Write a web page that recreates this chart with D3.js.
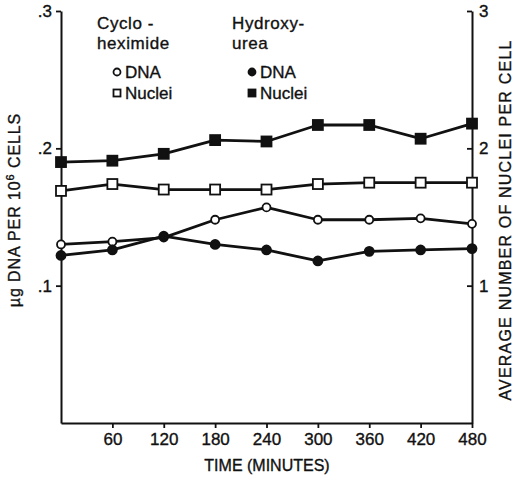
<!DOCTYPE html>
<html>
<head>
<meta charset="utf-8">
<script src="https://cdn.jsdelivr.net/npm/d3@7"></script>
<style>
  html, body { margin: 0; padding: 0; background: #fff; }
  svg { display: block; }
  text { font-family: "Liberation Sans", Arial, sans-serif; fill: #111; stroke: #111; stroke-width: 0.35px; }
</style>
</head>
<body>
<svg id="chart" width="514" height="477"></svg>
<script>
// Sampling times (minutes)
const times = [0, 60, 120, 180, 240, 300, 360, 420, 480];

// Cycloheximide-treated cells
const cycloDNA    = [0.130, 0.132, 0.135, 0.148, 0.157, 0.148, 0.148, 0.149, 0.145]; // µg DNA per 10^6 cells
const cycloNuclei = [1.69, 1.74, 1.70, 1.70, 1.70, 1.74, 1.75, 1.75, 1.75];        // nuclei per cell

// Hydroxyurea-treated cells
const hydroxyDNA    = [0.122, 0.126, 0.136, 0.130, 0.126, 0.118, 0.125, 0.126, 0.127];
const hydroxyNuclei = [1.90, 1.91, 1.96, 2.06, 2.05, 2.17, 2.17, 2.07, 2.18];

// Axis ticks
const xTicks = [60, 120, 180, 240, 300, 360, 420, 480];
const leftTicks = [0.1, 0.2, 0.3];
const rightTicks = [1, 2, 3];

const svg = d3.select("#chart");
const ink = "#111";

const x = d3.scaleLinear().domain([0, 480]).range([61, 472]);
const yL = d3.scaleLinear().domain([0, 0.3]).range([423, 11]);
const yR = d3.scaleLinear().domain([0, 3]).range([423, 11]);

// Axes
const xAxis = d3.axisBottom(x).tickValues(xTicks).tickSize(5).tickSizeOuter(0).tickPadding(5);
const lAxis = d3.axisLeft(yL).tickValues(leftTicks).tickSize(5).tickSizeOuter(0).tickPadding(4)
  .tickFormat(d => d3.format(".1f")(d).replace(/^0/, ""));
const rAxis = d3.axisRight(yR).tickValues(rightTicks).tickSize(-5).tickSizeOuter(0).tickPadding(7)
  .tickFormat(d3.format("d"));

function styleAxis(g) {
  g.select(".domain").attr("stroke", ink).attr("stroke-width", 2);
  g.selectAll(".tick line").attr("stroke", ink).attr("stroke-width", 1.8);
  g.selectAll(".tick text").attr("fill", ink).style("font-size", "17px")
    .style("font-family", "'Liberation Sans', Arial, sans-serif");
}

svg.append("g").attr("transform", `translate(0,${yL(0)})`).call(xAxis).call(styleAxis);
svg.append("g").attr("transform", `translate(${x(0)},0)`).call(lAxis).call(styleAxis);
svg.append("g").attr("transform", `translate(${x(480)},0)`).call(rAxis).call(styleAxis);

// Axis titles
svg.append("text")
  .attr("x", 267).attr("y", 471)
  .attr("text-anchor", "middle")
  .style("font-size", "16px")
  .text("TIME (MINUTES)");

const lt = svg.append("text")
  .attr("transform", "translate(20,210) rotate(-90)")
  .attr("text-anchor", "middle")
  .style("font-size", "16px")
  .style("letter-spacing", "0.9px");
lt.append("tspan").text("\u00b5g DNA PER 10");
lt.append("tspan").attr("dy", -6).style("font-size", "11px").text("6");
lt.append("tspan").attr("dy", 6).text(" CELLS");

svg.append("text")
  .attr("transform", "translate(511,220) rotate(-90)")
  .attr("text-anchor", "middle")
  .style("font-size", "16px")
  .style("letter-spacing", "1.2px")
  .text("AVERAGE NUMBER OF NUCLEI PER CELL");

// Series
const series = [
  { values: hydroxyNuclei, scale: yR, shape: "square", filled: true,  size: 10 },
  { values: cycloNuclei,   scale: yR, shape: "square", filled: false, size: 10 },
  { values: cycloDNA,      scale: yL, shape: "circle", filled: false, size: 8 },
  { values: hydroxyDNA,    scale: yL, shape: "circle", filled: true,  size: 9 }
];

const line = (scale) => d3.line().x((d, i) => x(times[i])).y(d => scale(d));

series.forEach(s => {
  svg.append("path")
    .datum(s.values)
    .attr("fill", "none")
    .attr("stroke", ink)
    .attr("stroke-width", 2.8)
    .attr("stroke-linejoin", "round")
    .attr("d", line(s.scale));
});

function drawMarker(g, shape, filled, size, cx, cy) {
  if (shape === "circle") {
    g.append("circle").attr("cx", cx).attr("cy", cy).attr("r", size / 2)
      .attr("fill", filled ? ink : "#fff").attr("stroke", ink).attr("stroke-width", 1.8);
  } else {
    g.append("rect").attr("x", cx - size / 2).attr("y", cy - size / 2)
      .attr("width", size).attr("height", size)
      .attr("fill", filled ? ink : "#fff").attr("stroke", ink).attr("stroke-width", 1.8);
  }
}

series.forEach(s => {
  const g = svg.append("g");
  s.values.forEach((v, i) => drawMarker(g, s.shape, s.filled, s.size, x(times[i]), s.scale(v)));
});

// Legend
const legend = svg.append("g").style("font-size", "17px");
const groups = [
  { title: ["Cyclo -", "heximide"], x: 97, filled: false },
  { title: ["Hydroxy-", "urea"], x: 232, filled: true }
];
groups.forEach(gr => {
  gr.title.forEach((t, i) => {
    legend.append("text").attr("x", gr.x).attr("y", 29 + i * 20).style("letter-spacing", "0.6px").text(t);
  });
  drawMarker(legend, "circle", gr.filled, 7, gr.x + 20, 72);
  legend.append("text").attr("x", gr.x + 28).attr("y", 78).text("DNA");
  drawMarker(legend, "square", gr.filled, 7, gr.x + 20, 93);
  legend.append("text").attr("x", gr.x + 28).attr("y", 99).text("Nuclei");
});
</script>
</body>
</html>
